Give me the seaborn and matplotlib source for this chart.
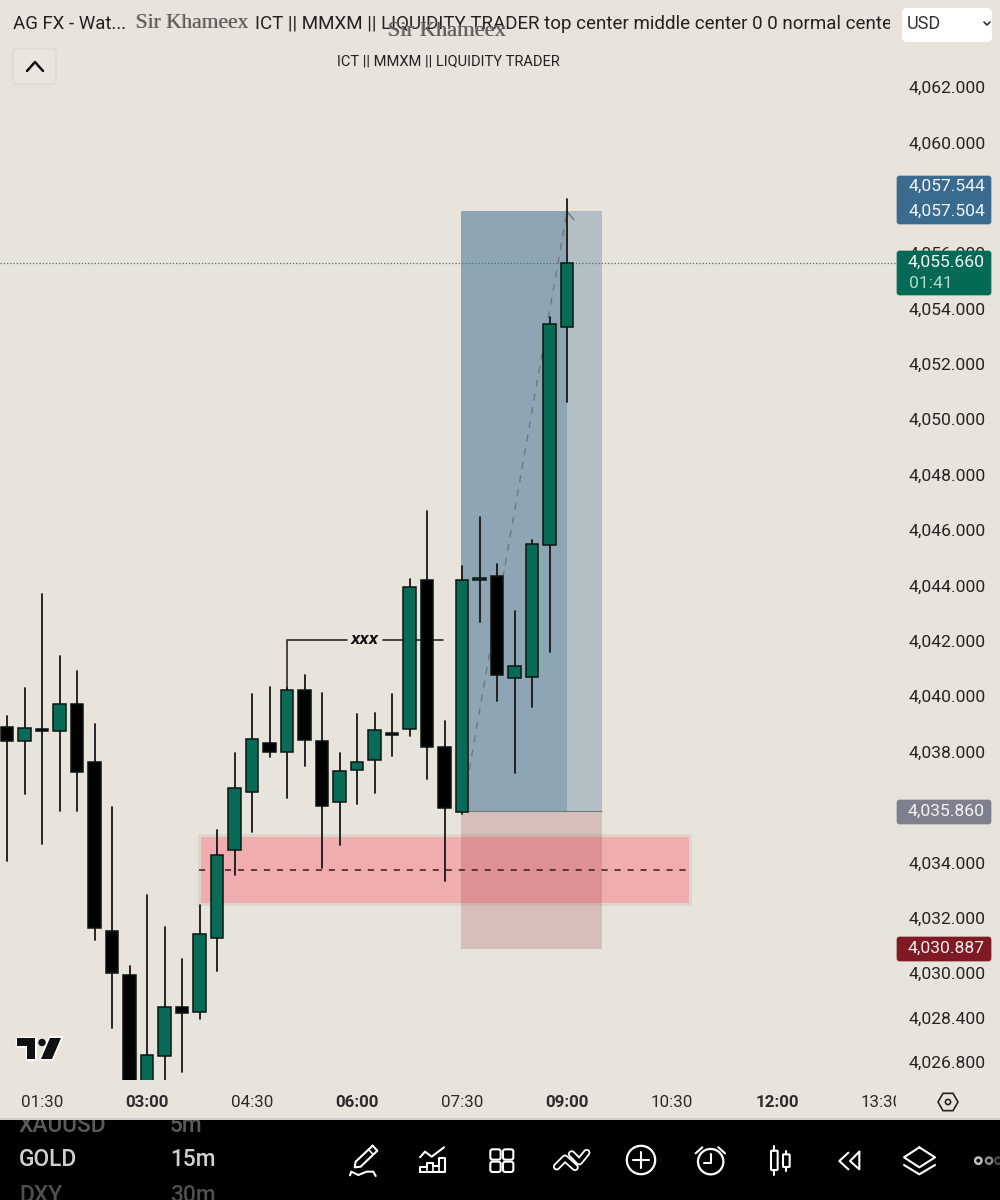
import matplotlib
matplotlib.use("Agg")
import matplotlib.pyplot as plt
import numpy as np
import pandas as pd
import seaborn as sns
from matplotlib.patches import Rectangle, FancyBboxPatch, Polygon, Circle
from matplotlib.transforms import Bbox

# 15-minute GOLD session; bar 0 is the 01:30 candle
bars = list(range(-2, 31))
opens = [4038.88, 4038.38, 4038.81, 4038.74, 4039.71, 4037.62, 4031.52, 4029.93, 4025.59,
         4027.00, 4028.77, 4028.59, 4031.26, 4034.44, 4036.54, 4038.31, 4037.98, 4040.22,
         4038.38, 4036.17, 4037.33, 4037.69, 4038.67, 4038.81, 4044.19, 4038.16, 4035.81,
         4044.19, 4044.34, 4040.65, 4040.69, 4045.46, 4053.33]
closes = [4038.38, 4038.85, 4038.74, 4039.71, 4037.26, 4031.62, 4030.00, 4025.59, 4027.04,
          4028.77, 4028.56, 4031.41, 4034.26, 4036.68, 4038.45, 4037.98, 4040.22, 4038.41,
          4036.03, 4037.29, 4037.62, 4038.77, 4038.59, 4043.94, 4038.16, 4035.96, 4044.19,
          4044.26, 4040.76, 4041.09, 4045.49, 4053.44, 4055.66]
highs = [4039.28, 4040.29, 4043.69, 4041.45, 4040.91, 4038.99, 4035.99, 4030.25, 4032.82,
         4031.66, 4030.51, 4032.46, 4035.16, 4037.94, 4040.07, 4040.33, 4040.29, 4040.76,
         4040.11, 4037.94, 4039.35, 4039.39, 4040.07, 4044.23, 4046.68, 4039.10, 4044.70,
         4046.47, 4044.77, 4043.07, 4045.64, 4053.69, 4057.95]
lows = [4034.04, 4036.46, 4034.66, 4035.85, 4035.85, 4031.19, 4028.01, 4025.41, 4025.41,
        4026.14, 4026.43, 4028.34, 4030.07, 4033.54, 4035.09, 4037.80, 4036.32, 4037.47,
        4033.79, 4034.62, 4036.10, 4036.50, 4037.84, 4038.56, 4037.01, 4033.32, 4035.74,
        4042.67, 4039.82, 4037.22, 4039.61, 4041.59, 4050.62]

price_ticks = [4062, 4060, 4058, 4056, 4054, 4052, 4050, 4048, 4046, 4044, 4042, 4040, 4038,
               4036, 4034, 4032, 4030, 4028.4, 4026.8]
time_ticks = [0, 6, 12, 18, 24, 30, 36, 42, 48]
time_labels = ["01:30", "03:00", "04:30", "06:00", "07:30", "09:00", "10:30", "12:00", "13:30"]
bold_times = {"03:00", "06:00", "09:00", "12:00"}

entry_price = 4035.86
target_price = 4057.504
stop_price = 4030.887
last_price = 4055.66
marker_price = 4042.03
zone_top, zone_mid, zone_bottom = 4034.98, 4033.71, 4032.48

PAPER = "#E8E4DC"
GREEN = "#076B57"
BLUE = "#3B6A8F"
MAROON = "#7F1A24"
INK = "#111111"

sns.set_theme(style="white", rc={"axes.facecolor": PAPER, "figure.facecolor": PAPER})
plt.rcParams["font.family"] = ["Roboto", "DejaVu Sans"]

fig = plt.figure(figsize=(10, 12), dpi=100, facecolor=PAPER)
ax = fig.add_axes([0, 120 / 1200, 0.896, 1080 / 1200])
ax.set_facecolor(PAPER)

# supply/demand zone with its midline
ax.add_patch(Rectangle((8.97, zone_bottom), 28.06, zone_top - zone_bottom, fc="#F0ADAF",
                       ec="#DDD6CD", lw=2.2, zorder=1))
ax.hlines(zone_mid, 8.97, 37.03, color="#3a1a1a", lw=1.1, linestyles=(0, (4, 4.5)), zorder=1.6)

# long position tool: translucent reward and risk boxes
ax.add_patch(Rectangle((23.94, entry_price), 8.06, target_price - entry_price, fc=BLUE, alpha=0.3,
                       ec="none", zorder=1.2))
ax.add_patch(Rectangle((23.94, entry_price), 6.06, target_price - entry_price, fc=BLUE, alpha=0.3,
                       ec="none", zorder=1.3))
ax.add_patch(Rectangle((23.94, stop_price), 8.06, entry_price - stop_price, fc="#7D000C", alpha=0.16,
                       ec="none", zorder=1.2))
ax.hlines(entry_price, 23.94, 32, color="#6f7a80", lw=0.8, zorder=1.4)

# last price line
ax.axhline(last_price, color="#2f7f6c", lw=0.9, ls=(0, (1, 1.6)), zorder=1.7)

# projected path arrow
ax.plot([24, 30], [entry_price, 4057.5], color="#6f7880", lw=1, ls=(0, (5, 5)), zorder=1.8)
ax.plot([30, 30.4], [4057.5, 4057.2], color="#6f7880", lw=1, zorder=1.8)

# high marker with its label
ax.plot([14, 14, 17.43], [lows[16] + 3.5, marker_price, marker_price], color="#2a2a2a", lw=1.2, zorder=1.9)
ax.plot([19.5, 22.9], [marker_price, marker_price], color="#2a2a2a", lw=1.2, zorder=1.9)
ax.text(18.46, marker_price, "xxx", ha="center", va="center", fontsize=10.5, fontweight="bold",
        fontstyle="italic", color=INK, family="DejaVu Sans", zorder=1.9)

# wicks
wicks = pd.DataFrame({
    "bar": bars + bars,
    "price": lows + highs,
})
sns.lineplot(data=wicks, x="bar", y="price", units="bar", estimator=None, sort=False, color="#161616",
             lw=1.3, legend=False, ax=ax, zorder=3)

# bodies
op = np.array(opens)
cl = np.array(closes)
is_up = cl > op
colors = [GREEN if up else "#000000" for up in is_up]
ax.bar(bars, np.abs(cl - op), bottom=np.minimum(op, cl), width=0.72, color=colors, edgecolor="#0b1512",
       linewidth=1.1, zorder=4)

ax.set_xlim(-2.4, 48.8)
ax.set_ylim(4026.14, 4065.14)
ax.set_xlabel("")
ax.set_ylabel("")
for spine in ax.spines.values():
    spine.set_visible(False)

ax.yaxis.tick_right()
ax.set_yticks(price_ticks)
ax.set_yticklabels([f"{p:,.3f}" for p in price_ticks])
ax.tick_params(axis="y", length=0, pad=9, labelsize=12.6, labelcolor="#242424")
ax.set_xticks(time_ticks)
ax.set_xticklabels(time_labels)
ax.tick_params(axis="x", length=0, pad=11, labelsize=12.2, labelcolor="#2b2b2b")
for lab in ax.get_xticklabels():
    if lab.get_text() in bold_times:
        lab.set_fontweight("bold")
    lab.set_clip_on(True)
    lab.set_clip_box(Bbox([[0, 0], [896, 1200]]))

# screen furniture in pixel coordinates
ui = fig.add_axes([0, 0, 1, 1], zorder=10)
ui.set_xlim(0, 1000)
ui.set_ylim(1200, 0)
ui.axis("off")
ui.patch.set_alpha(0)


def tag(y0, y1, color):
    ui.add_patch(FancyBboxPatch((897, y0 + 1), 94, y1 - y0 - 2, boxstyle="round,pad=0,rounding_size=2.5",
                                fc=color, ec=color, lw=0.5))


tag(175, 225, BLUE)
ui.text(985, 186, "4,057.544", ha="right", va="center", fontsize=12.6, color="#f2f5f8")
ui.text(985, 211, "4,057.504", ha="right", va="center", fontsize=12.6, color="#f2f5f8")
tag(250, 296, "#056A55")
ui.text(985, 262, "4,055.660", ha="right", va="center", fontsize=12.6, color="#f2f5f8")
ui.text(909, 283, "01:41", ha="left", va="center", fontsize=12.6, color="#b5d5cc")
tag(799, 825, "#7E808E")
ui.text(985, 811, "4,035.860", ha="right", va="center", fontsize=12.6, color="#f4f4f6")
tag(936, 962, MAROON)
ui.text(985, 948, "4,030.887", ha="right", va="center", fontsize=12.6, color="#f4eeee")

# header strip
title_clip = Rectangle((0, 0), 890, 60, transform=ui.transData, fc="none", ec="none")
ui.add_patch(title_clip)
ui.text(13, 24, "AG FX - Wat...", ha="left", va="center", fontsize=13.4, color="#222222")
head2 = ui.text(255, 24, "ICT || MMXM || LIQUIDITY TRADER top center middle center 0 0 normal center",
                ha="left", va="center", fontsize=13.5, color="#222222", clip_on=True)
head2.set_clip_path(title_clip)
for dx, shade in ((0, "#a8a8a4"), (0.8, "#5a5a58")):
    ui.text(135 + dx, 24, "Sir Khameex", ha="left", va="center", fontsize=15.4, color=shade,
            family="Liberation Serif")
    ui.text(387 + dx, 32, "Sir Khameex", ha="left", va="center", fontsize=16.2, color=shade,
            family="Liberation Serif")
ui.text(448, 61, "ICT || MMXM || LIQUIDITY TRADER", ha="center", va="center", fontsize=10.5, color="#222222")

ui.add_patch(FancyBboxPatch((902, 8), 90, 34, boxstyle="round,pad=0,rounding_size=5", fc="white", ec="none"))
ui.text(907, 24, "USD", ha="left", va="center", fontsize=13, color="#333333")
ui.plot([984, 987, 990], [22, 25, 22], color="#333333", lw=1.2)

ui.add_patch(FancyBboxPatch((13, 49), 43, 35, boxstyle="round,pad=0,rounding_size=3", fc="#EAE6DF",
                            ec="#DEDAD2", lw=1))
ui.plot([27, 35, 43], [71, 62, 71], color="#111111", lw=1.8)

# logo mark on a pale halo
tee = [(17, 1038), (35, 1038), (35, 1059), (27, 1059), (27, 1046), (17, 1046)]
slash = [(50, 1038), (61, 1038), (52, 1059), (41, 1059)]
for shape in (tee, slash):
    ui.add_patch(Polygon(shape, fc="white", ec="white", lw=2.4))
    ui.add_patch(Polygon(shape, fc="#111111", ec="none"))
ui.add_patch(Circle((42, 1042.5), 3.7, fc="#111111", ec="none"))

# settings hexagon on the time scale
ang = np.deg2rad(np.arange(0, 360, 60))
ui.add_patch(Polygon(np.c_[948 + 10 * np.cos(ang), 1102 + 10 * np.sin(ang)], fc="none", ec="#222222", lw=1.2))
ui.add_patch(Circle((948, 1102), 2.6, fc="none", ec="#222222", lw=1.2))

# thin rule above the toolbar
ui.plot([0, 1000], [1119, 1119], color="#c9c6c0", lw=1.2)

# black toolbar with the scrolling symbol list
bar_ax = fig.add_axes([0, 0, 1, 80 / 1200], zorder=11)
bar_ax.set_xlim(0, 1000)
bar_ax.set_ylim(1200, 1120)
bar_ax.set_facecolor("#000000")
bar_ax.set_xticks([])
bar_ax.set_yticks([])
for spine in bar_ax.spines.values():
    spine.set_visible(False)
rows = [("XAUUSD", "5m", 1126, "#5a5a5a"), ("GOLD", "15m", 1160, "#d0d0d0"), ("DXY", "30m", 1196, "#4f4f4f")]
for name, frame, y, shade in rows:
    bar_ax.text(19, y, name, ha="left", va="center", fontsize=16.4, fontweight="medium", color=shade, clip_on=True)
    bar_ax.text(170, y, frame, ha="left", va="center", fontsize=16.4, fontweight="medium", color=shade, clip_on=True)


def stroke(points, lw=1.5, color="white", ox=340):
    xy = np.array([(ox + x / 3, 1130 + y / 3) for x, y in points])
    bar_ax.plot(xy[:, 0], xy[:, 1], color=color, lw=lw, solid_joinstyle="round", solid_capstyle="round")


def box(x, y, w, h, rounding=1.0, ox=340):
    bar_ax.add_patch(FancyBboxPatch((ox + x / 3, 1130 + y / 3), w / 3, h / 3,
                                    boxstyle=f"round,pad=0,rounding_size={rounding}",
                                    fc="none", ec="white", lw=1.5))


# pencil and signature
stroke([(98, 47), (112, 62), (62, 110), (44, 112), (47, 95), (98, 47)])
stroke([(85, 58), (100, 74)], lw=1.1)
stroke([(30, 136), (34, 125), (55, 135), (80, 125), (100, 125), (107, 138)])
# indicators
stroke([(240, 82), (255, 65), (275, 80), (312, 52)])
stroke([(240, 127), (240, 112), (262, 112), (262, 98), (280, 98), (280, 108), (298, 108), (298, 85),
        (316, 85), (316, 127), (240, 127)])
stroke([(262, 112), (262, 127)], lw=1.2)
stroke([(280, 108), (280, 127)], lw=1.2)
stroke([(298, 108), (298, 127)], lw=1.2)
# grid
for x in (451, 489):
    for y in (58, 95):
        box(x, y, 31, 31, rounding=2.2)
# replay chevrons, a white stroke with a black core
for chevron in ([(650, 110), (675, 85), (705, 112)], [(695, 72), (718, 95), (740, 68)]):
    stroke(chevron, lw=5.4)
    stroke(chevron, lw=2.8, color="black")
# plus
bar_ax.add_patch(Circle((641, 1160), 14.2, fc="none", ec="white", lw=1.6))
stroke([(879, 90), (927, 90)], ox=340)
stroke([(903, 66), (903, 114)], ox=340)
# alarm
bar_ax.add_patch(Circle((680 + 92 / 3, 1130 + 95 / 3), 12.7, fc="none", ec="white", lw=1.6))
stroke([(92, 72), (92, 100), (72, 100)], ox=680)
stroke([(47, 70), (67, 52)], ox=680)
stroke([(135, 70), (115, 52)], ox=680)
# chart type
box(273, 62, 20, 58, rounding=0.8, ox=680)
stroke([(283, 48), (283, 62)], ox=680)
stroke([(283, 120), (283, 134)], ox=680)
box(309, 73, 20, 38, rounding=0.8, ox=680)
stroke([(319, 62), (319, 73)], ox=680)
stroke([(319, 111), (319, 122)], ox=680)
# rewind
stroke([(505, 68), (478, 93), (505, 118)], ox=680)
stroke([(538, 65), (510, 93), (538, 118), (538, 65)], ox=680)
# layers
stroke([(718, 52), (765, 82), (718, 112), (672, 82), (718, 52)], ox=680)
stroke([(672, 105), (718, 133), (765, 105)], ox=680)
# overflow dots
for x, shade in ((895, "#c8c8c8"), (927, "#8a8a8a"), (955, "#4a4a4a")):
    bar_ax.add_patch(Circle((680 + x / 3, 1130 + 92 / 3), 3.2, fc="none", ec=shade, lw=1.7))

fig.savefig("out.png", dpi=100, facecolor=PAPER)
